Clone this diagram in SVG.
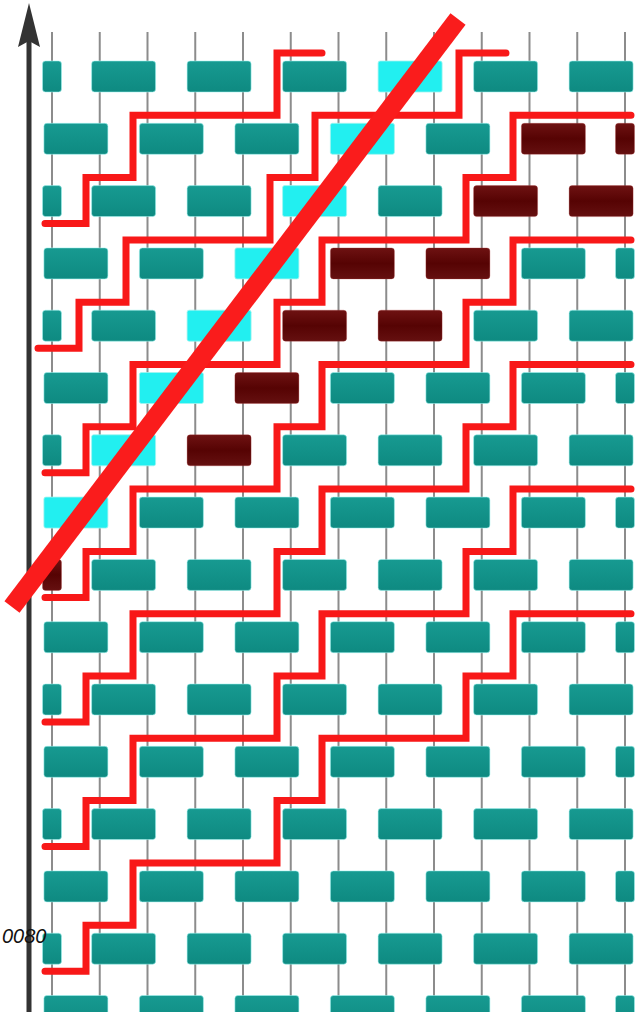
<svg xmlns="http://www.w3.org/2000/svg" width="638" height="1012" viewBox="0 0 638 1012">
<style>
.bg{fill:#ffffff}
.grid line{stroke:#8c8c8c;stroke-width:2}
.t{fill:url(#gt);stroke:#9ff5f0;stroke-width:0.8;stroke-opacity:0.7}
.c{fill:#22eff0;stroke:#9ff5f0;stroke-width:0.8}
.m{fill:url(#gm);stroke:#b04040;stroke-width:0.6;stroke-opacity:0.5}
.stair{fill:none;stroke:#f81818;stroke-width:7;stroke-linejoin:miter;stroke-linecap:round}
.diag{stroke:#fa1c1c;stroke-width:19;stroke-linecap:butt}
.axis{stroke:#333333;stroke-width:5}
.lbl{font-family:"Liberation Sans",Arial,sans-serif;font-style:italic;font-size:20px;fill:#111111}
</style>
<defs>
<linearGradient id="gt" x1="0" y1="0" x2="0" y2="1">
<stop offset="0" stop-color="#179a91"/>
<stop offset="1" stop-color="#0e8a81"/>
</linearGradient>
<linearGradient id="gm" x1="0" y1="0" x2="0" y2="1">
<stop offset="0" stop-color="#6e1212"/>
<stop offset="0.5" stop-color="#560303"/>
<stop offset="1" stop-color="#651010"/>
</linearGradient>
</defs>
<rect class="bg" x="0" y="0" width="638" height="1012"/>
<g id="grid" class="grid">
<line x1="52" y1="32" x2="52" y2="1012"/>
<line x1="99.75" y1="32" x2="99.75" y2="1012"/>
<line x1="147.5" y1="32" x2="147.5" y2="1012"/>
<line x1="195.25" y1="32" x2="195.25" y2="1012"/>
<line x1="243" y1="32" x2="243" y2="1012"/>
<line x1="290.75" y1="32" x2="290.75" y2="1012"/>
<line x1="338.5" y1="32" x2="338.5" y2="1012"/>
<line x1="386.25" y1="32" x2="386.25" y2="1012"/>
<line x1="434" y1="32" x2="434" y2="1012"/>
<line x1="481.75" y1="32" x2="481.75" y2="1012"/>
<line x1="529.5" y1="32" x2="529.5" y2="1012"/>
<line x1="577.25" y1="32" x2="577.25" y2="1012"/>
<line x1="625" y1="32" x2="625" y2="1012"/>
</g>
<g id="blocks">
<g id="row0" transform="translate(0,61)">
<rect class="t" x="42.5" y="0" width="19" height="31" rx="3"/>
<rect class="t" x="91.6" y="0" width="64" height="31" rx="3"/>
<rect class="t" x="187.1" y="0" width="64" height="31" rx="3"/>
<rect class="t" x="282.6" y="0" width="64" height="31" rx="3"/>
<rect class="c" x="378.1" y="0" width="64" height="31" rx="2"/>
<rect class="t" x="473.6" y="0" width="64" height="31" rx="3"/>
<rect class="t" x="569.1" y="0" width="64" height="31" rx="3"/>
</g>
<g id="row1" transform="translate(0,123.3)">
<rect class="t" x="43.9" y="0" width="64" height="31" rx="3"/>
<rect class="t" x="139.4" y="0" width="64" height="31" rx="3"/>
<rect class="t" x="234.9" y="0" width="64" height="31" rx="3"/>
<rect class="c" x="330.4" y="0" width="64" height="31" rx="2"/>
<rect class="t" x="425.9" y="0" width="64" height="31" rx="3"/>
<rect class="m" x="521.4" y="0" width="64" height="31" rx="3"/>
<rect class="m" x="615.5" y="0" width="19" height="31" rx="3"/>
</g>
<g id="row2" transform="translate(0,185.6)">
<rect class="t" x="42.5" y="0" width="19" height="31" rx="3"/>
<rect class="t" x="91.6" y="0" width="64" height="31" rx="3"/>
<rect class="t" x="187.1" y="0" width="64" height="31" rx="3"/>
<rect class="c" x="282.6" y="0" width="64" height="31" rx="2"/>
<rect class="t" x="378.1" y="0" width="64" height="31" rx="3"/>
<rect class="m" x="473.6" y="0" width="64" height="31" rx="3"/>
<rect class="m" x="569.1" y="0" width="64" height="31" rx="3"/>
</g>
<g id="row3" transform="translate(0,247.9)">
<rect class="t" x="43.9" y="0" width="64" height="31" rx="3"/>
<rect class="t" x="139.4" y="0" width="64" height="31" rx="3"/>
<rect class="c" x="234.9" y="0" width="64" height="31" rx="2"/>
<rect class="m" x="330.4" y="0" width="64" height="31" rx="3"/>
<rect class="m" x="425.9" y="0" width="64" height="31" rx="3"/>
<rect class="t" x="521.4" y="0" width="64" height="31" rx="3"/>
<rect class="t" x="615.5" y="0" width="19" height="31" rx="3"/>
</g>
<g id="row4" transform="translate(0,310.2)">
<rect class="t" x="42.5" y="0" width="19" height="31" rx="3"/>
<rect class="t" x="91.6" y="0" width="64" height="31" rx="3"/>
<rect class="c" x="187.1" y="0" width="64" height="31" rx="2"/>
<rect class="m" x="282.6" y="0" width="64" height="31" rx="3"/>
<rect class="m" x="378.1" y="0" width="64" height="31" rx="3"/>
<rect class="t" x="473.6" y="0" width="64" height="31" rx="3"/>
<rect class="t" x="569.1" y="0" width="64" height="31" rx="3"/>
</g>
<g id="row5" transform="translate(0,372.5)">
<rect class="t" x="43.9" y="0" width="64" height="31" rx="3"/>
<rect class="c" x="139.4" y="0" width="64" height="31" rx="2"/>
<rect class="m" x="234.9" y="0" width="64" height="31" rx="3"/>
<rect class="t" x="330.4" y="0" width="64" height="31" rx="3"/>
<rect class="t" x="425.9" y="0" width="64" height="31" rx="3"/>
<rect class="t" x="521.4" y="0" width="64" height="31" rx="3"/>
<rect class="t" x="615.5" y="0" width="19" height="31" rx="3"/>
</g>
<g id="row6" transform="translate(0,434.8)">
<rect class="t" x="42.5" y="0" width="19" height="31" rx="3"/>
<rect class="c" x="91.6" y="0" width="64" height="31" rx="2"/>
<rect class="m" x="187.1" y="0" width="64" height="31" rx="3"/>
<rect class="t" x="282.6" y="0" width="64" height="31" rx="3"/>
<rect class="t" x="378.1" y="0" width="64" height="31" rx="3"/>
<rect class="t" x="473.6" y="0" width="64" height="31" rx="3"/>
<rect class="t" x="569.1" y="0" width="64" height="31" rx="3"/>
</g>
<g id="row7" transform="translate(0,497.1)">
<rect class="c" x="43.9" y="0" width="64" height="31" rx="2"/>
<rect class="t" x="139.4" y="0" width="64" height="31" rx="3"/>
<rect class="t" x="234.9" y="0" width="64" height="31" rx="3"/>
<rect class="t" x="330.4" y="0" width="64" height="31" rx="3"/>
<rect class="t" x="425.9" y="0" width="64" height="31" rx="3"/>
<rect class="t" x="521.4" y="0" width="64" height="31" rx="3"/>
<rect class="t" x="615.5" y="0" width="19" height="31" rx="3"/>
</g>
<g id="row8" transform="translate(0,559.4)">
<rect class="m" x="42.5" y="0" width="19" height="31" rx="3"/>
<rect class="t" x="91.6" y="0" width="64" height="31" rx="3"/>
<rect class="t" x="187.1" y="0" width="64" height="31" rx="3"/>
<rect class="t" x="282.6" y="0" width="64" height="31" rx="3"/>
<rect class="t" x="378.1" y="0" width="64" height="31" rx="3"/>
<rect class="t" x="473.6" y="0" width="64" height="31" rx="3"/>
<rect class="t" x="569.1" y="0" width="64" height="31" rx="3"/>
</g>
<g id="row9" transform="translate(0,621.7)">
<rect class="t" x="43.9" y="0" width="64" height="31" rx="3"/>
<rect class="t" x="139.4" y="0" width="64" height="31" rx="3"/>
<rect class="t" x="234.9" y="0" width="64" height="31" rx="3"/>
<rect class="t" x="330.4" y="0" width="64" height="31" rx="3"/>
<rect class="t" x="425.9" y="0" width="64" height="31" rx="3"/>
<rect class="t" x="521.4" y="0" width="64" height="31" rx="3"/>
<rect class="t" x="615.5" y="0" width="19" height="31" rx="3"/>
</g>
<g id="row10" transform="translate(0,684)">
<rect class="t" x="42.5" y="0" width="19" height="31" rx="3"/>
<rect class="t" x="91.6" y="0" width="64" height="31" rx="3"/>
<rect class="t" x="187.1" y="0" width="64" height="31" rx="3"/>
<rect class="t" x="282.6" y="0" width="64" height="31" rx="3"/>
<rect class="t" x="378.1" y="0" width="64" height="31" rx="3"/>
<rect class="t" x="473.6" y="0" width="64" height="31" rx="3"/>
<rect class="t" x="569.1" y="0" width="64" height="31" rx="3"/>
</g>
<g id="row11" transform="translate(0,746.3)">
<rect class="t" x="43.9" y="0" width="64" height="31" rx="3"/>
<rect class="t" x="139.4" y="0" width="64" height="31" rx="3"/>
<rect class="t" x="234.9" y="0" width="64" height="31" rx="3"/>
<rect class="t" x="330.4" y="0" width="64" height="31" rx="3"/>
<rect class="t" x="425.9" y="0" width="64" height="31" rx="3"/>
<rect class="t" x="521.4" y="0" width="64" height="31" rx="3"/>
<rect class="t" x="615.5" y="0" width="19" height="31" rx="3"/>
</g>
<g id="row12" transform="translate(0,808.6)">
<rect class="t" x="42.5" y="0" width="19" height="31" rx="3"/>
<rect class="t" x="91.6" y="0" width="64" height="31" rx="3"/>
<rect class="t" x="187.1" y="0" width="64" height="31" rx="3"/>
<rect class="t" x="282.6" y="0" width="64" height="31" rx="3"/>
<rect class="t" x="378.1" y="0" width="64" height="31" rx="3"/>
<rect class="t" x="473.6" y="0" width="64" height="31" rx="3"/>
<rect class="t" x="569.1" y="0" width="64" height="31" rx="3"/>
</g>
<g id="row13" transform="translate(0,870.9)">
<rect class="t" x="43.9" y="0" width="64" height="31" rx="3"/>
<rect class="t" x="139.4" y="0" width="64" height="31" rx="3"/>
<rect class="t" x="234.9" y="0" width="64" height="31" rx="3"/>
<rect class="t" x="330.4" y="0" width="64" height="31" rx="3"/>
<rect class="t" x="425.9" y="0" width="64" height="31" rx="3"/>
<rect class="t" x="521.4" y="0" width="64" height="31" rx="3"/>
<rect class="t" x="615.5" y="0" width="19" height="31" rx="3"/>
</g>
<g id="row14" transform="translate(0,933.2)">
<rect class="t" x="42.5" y="0" width="19" height="31" rx="3"/>
<rect class="t" x="91.6" y="0" width="64" height="31" rx="3"/>
<rect class="t" x="187.1" y="0" width="64" height="31" rx="3"/>
<rect class="t" x="282.6" y="0" width="64" height="31" rx="3"/>
<rect class="t" x="378.1" y="0" width="64" height="31" rx="3"/>
<rect class="t" x="473.6" y="0" width="64" height="31" rx="3"/>
<rect class="t" x="569.1" y="0" width="64" height="31" rx="3"/>
</g>
<g id="row15" transform="translate(0,995.5)">
<rect class="t" x="43.9" y="0" width="64" height="31" rx="3"/>
<rect class="t" x="139.4" y="0" width="64" height="31" rx="3"/>
<rect class="t" x="234.9" y="0" width="64" height="31" rx="3"/>
<rect class="t" x="330.4" y="0" width="64" height="31" rx="3"/>
<rect class="t" x="425.9" y="0" width="64" height="31" rx="3"/>
<rect class="t" x="521.4" y="0" width="64" height="31" rx="3"/>
<rect class="t" x="615.5" y="0" width="19" height="31" rx="3"/>
</g>
</g>
<g id="connectors">
<polyline id="stairA" class="stair" points="45,223.6 86,223.6 86,177.6 133,177.6 133,115.3 277,115.3 277,53 322,53"/>
<polyline id="stairB" class="stair" points="38,348.2 79,348.2 79,302.2 126,302.2 126,239.9 270,239.9 270,177.6 315,177.6 315,115.3 459,115.3 459,53 506,53"/>
<polyline id="stairC" class="stair" points="45,472.8 86,472.8 86,426.8 133,426.8 133,364.5 277,364.5 277,302.2 322,302.2 322,239.9 466,239.9 466,177.6 513,177.6 513,115.3 631,115.3"/>
<polyline id="stairD" class="stair" points="45,597.4 86,597.4 86,551.4 133,551.4 133,489.1 277,489.1 277,426.8 322,426.8 322,364.5 466,364.5 466,302.2 513,302.2 513,239.9 631,239.9"/>
<polyline id="stairE" class="stair" points="45,722 86,722 86,676 133,676 133,613.7 277,613.7 277,551.4 322,551.4 322,489.1 466,489.1 466,426.8 513,426.8 513,364.5 631,364.5"/>
<polyline id="stairF" class="stair" points="45,846.6 86,846.6 86,800.6 133,800.6 133,738.3 277,738.3 277,676 322,676 322,613.7 466,613.7 466,551.4 513,551.4 513,489.1 631,489.1"/>
<polyline id="stairG" class="stair" points="45,971.2 86,971.2 86,925.2 133,925.2 133,862.9 277,862.9 277,800.6 322,800.6 322,738.3 466,738.3 466,676 513,676 513,613.7 631,613.7"/>
</g>
<g id="axis">
<line class="axis" x1="29" y1="40" x2="29" y2="1012"/>
<polygon points="29,3 40,47 29,41 18,47" fill="#333333"/>
</g>
<g id="diagonal">
<line class="diag" x1="458" y1="19" x2="12" y2="607"/>
</g>
<text class="lbl" x="2" y="942.5">0080</text>
</svg>
